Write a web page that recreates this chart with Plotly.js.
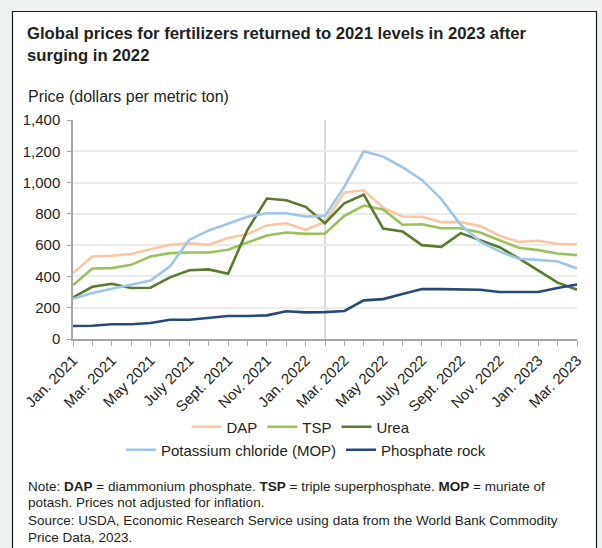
<!DOCTYPE html>
<html>
<head>
<meta charset="utf-8">
<script src="https://cdn.plot.ly/plotly-3.0.1.min.js"></script>
<style>
  html, body { margin: 0; padding: 0; background: #eef2f2; }
  #chart { width: 602px; height: 548px; }
</style>
</head>
<body>
<div id="chart"></div>
<script>
// ---- data (monthly, Jan. 2021 – Mar. 2023), dollars per metric ton ----
const months = [
  "Jan. 2021","Feb. 2021","Mar. 2021","Apr. 2021","May 2021","June 2021","July 2021","Aug. 2021","Sept. 2021","Oct. 2021","Nov. 2021","Dec. 2021",
  "Jan. 2022","Feb. 2022","Mar. 2022","Apr. 2022","May 2022","June 2022","July 2022","Aug. 2022","Sept. 2022","Oct. 2022","Nov. 2022","Dec. 2022",
  "Jan. 2023","Feb. 2023","Mar. 2023"
];
const tickLabels = ["Jan. 2021","Mar. 2021","May 2021","July 2021","Sept. 2021","Nov. 2021","Jan. 2022","Mar. 2022","May 2022","July 2022","Sept. 2022","Nov. 2022","Jan. 2023","Mar. 2023"];

const dap       = [421, 528, 532, 543, 574, 602, 611, 602, 645, 670, 726, 740, 698, 748, 936, 951, 840, 783, 781, 747, 747, 723, 660, 621, 628, 609, 604];
const tsp       = [343, 451, 453, 474, 528, 549, 553, 553, 570, 617, 662, 681, 672, 674, 787, 853, 828, 730, 734, 708, 708, 681, 630, 583, 568, 547, 536];
const urea      = [266, 334, 353, 326, 328, 394, 440, 445, 417, 698, 898, 887, 845, 740, 868, 923, 706, 687, 600, 589, 677, 634, 587, 515, 440, 360, 315];
const mop       = [257, 294, 321, 349, 374, 464, 634, 694, 740, 781, 804, 804, 783, 787, 974, 1200, 1166, 1098, 1017, 894, 730, 623, 560, 513, 506, 496, 451];
const phosRock  = [83, 85, 94, 94, 102, 123, 123, 134, 147, 147, 151, 177, 170, 172, 179, 247, 255, 287, 319, 319, 319, 315, 300, 300, 300, 326, 349];

const seriesNames = ["DAP", "TSP", "Urea", "Potassium chloride (MOP)", "Phosphate rock"];
const markerMonth = "Feb. 2022";

// ---- geometry helpers (pixel -> paper) ----
const W = 602, H = 548;
const M = { l: 73, r: 25, t: 120, b: 209 };
const PW = W - M.l - M.r, PH = H - M.t - M.b;
const px = x => (x - M.l) / PW;
const py = y => (H - M.b - y) / PH;

const xIdx = months.map((_, i) => i);
const tickIdx = tickLabels.map(t => months.indexOf(t));

const FONT = "Liberation Sans, Arial, Helvetica, sans-serif";
const TXT = "#231f20";

function line(name, y, color, legend) {
  return {
    type: "scatter", mode: "lines", name: name,
    x: xIdx, y: y, text: months,
    line: { color: color, width: 2.6 },
    legend: legend,
    hovertemplate: "%{text}: $%{y}<extra>" + name + "</extra>"
  };
}

const data = [
  line(seriesNames[0], dap,      "#f8c7a4", "legend"),
  line(seriesNames[1], tsp,      "#98c35b", "legend"),
  line(seriesNames[2], urea,     "#5a7a2f", "legend"),
  line(seriesNames[3], mop,      "#9fc6e9", "legend2"),
  line(seriesNames[4], phosRock, "#27497a", "legend2")
];

const noteFont = { family: FONT, size: 13.5, color: TXT };
function note(text, yPix) {
  return { xref: "paper", yref: "paper", x: px(26), y: py(yPix), xanchor: "left", yanchor: "middle",
           align: "left", showarrow: false, text: text, font: noteFont };
}

const layout = {
  width: W, height: H,
  margin: M,
  paper_bgcolor: "#eef2f2",
  plot_bgcolor: "rgba(0,0,0,0)",
  font: { family: FONT, color: TXT, size: 15 },
  title: {
    text: "<b>Global prices for fertilizers returned to 2021 levels in 2023 after<br>surging in 2022</b>",
    font: { family: FONT, size: 16.7, color: TXT },
    x: 27 / W, xanchor: "left", xref: "container",
    y: 1 - 39 / H, yanchor: "top", yref: "container"
  },
  xaxis: {
    range: [0, 26],
    tickvals: tickIdx, ticktext: tickLabels,
    tickangle: -45,
    tickfont: { family: FONT, size: 15, color: TXT },
    showgrid: false, zeroline: false,
    showline: true, linecolor: "#a6a6a6", linewidth: 1.5,
    ticks: "outside", ticklen: 5, tickcolor: "#a6a6a6", tickwidth: 1.2,
    minor: { dtick: 1, ticks: "outside", ticklen: 5, tickcolor: "#a6a6a6", tickwidth: 1.2, showgrid: false },
    fixedrange: true
  },
  yaxis: {
    range: [0, 1400], dtick: 200, tickformat: ",",
    tickfont: { family: FONT, size: 15, color: TXT },
    showgrid: true, gridcolor: "#ebebeb", gridwidth: 1.6,
    zeroline: false,
    showline: true, linecolor: "#a6a6a6", linewidth: 1.5,
    ticks: "outside", ticklen: 4, tickcolor: "#a6a6a6", tickwidth: 1.2,
    ticklabelstandoff: 4,
    fixedrange: true
  },
  showlegend: true,
  legend: {
    orientation: "h", x: px(301), xanchor: "center", y: py(427), yanchor: "middle",
    font: { family: FONT, size: 15, color: TXT }, bgcolor: "rgba(0,0,0,0)", itemclick: false, itemdoubleclick: false
  },
  legend2: {
    orientation: "h", x: px(306), xanchor: "center", y: py(450), yanchor: "middle",
    font: { family: FONT, size: 15, color: TXT }, bgcolor: "rgba(0,0,0,0)", itemclick: false, itemdoubleclick: false
  },
  shapes: [
    { type: "rect", xref: "paper", yref: "paper", x0: px(12.5), x1: px(596.5), y0: py(560), y1: py(11.5),
      fillcolor: "#ffffff", line: { color: "#1a1a1a", width: 1.2 }, layer: "below" },
    { type: "line", xref: "x", yref: "paper", x0: months.indexOf(markerMonth), x1: months.indexOf(markerMonth), y0: 0, y1: 1,
      line: { color: "#b5b5b5", width: 1 }, layer: "below" }
  ],
  annotations: [
    { xref: "paper", yref: "paper", x: px(26), y: py(96), xanchor: "left", yanchor: "middle", showarrow: false,
      text: "Price (dollars per metric ton)", font: { family: FONT, size: 16, color: TXT } },
    note("Note: <b>DAP</b> = diammonium phosphate. <b>TSP</b> = triple superphosphate. <b>MOP</b> = muriate of", 486),
    note("potash. Prices not adjusted for inflation.", 502),
    note("Source: USDA, Economic Research Service using data from the World Bank Commodity", 520),
    note("Price Data, 2023.", 537)
  ]
};

Plotly.newPlot("chart", data, layout, { displayModeBar: false, staticPlot: false, responsive: false });
</script>
</body>
</html>
